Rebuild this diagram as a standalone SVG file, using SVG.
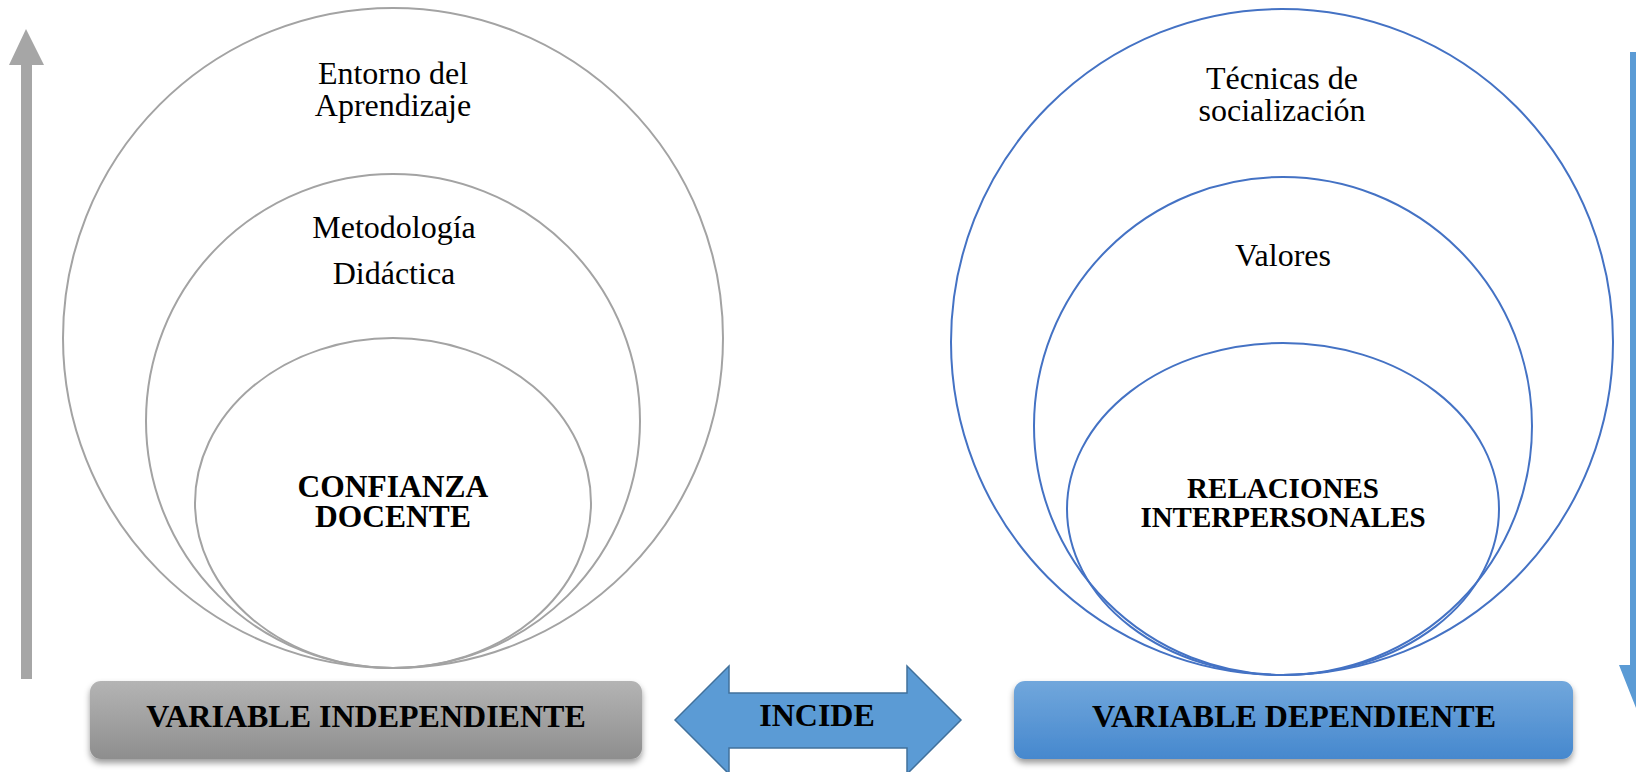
<svg xmlns="http://www.w3.org/2000/svg" width="1636" height="772" viewBox="0 0 1636 772">
<defs>
<linearGradient id="gGray" x1="0" y1="0" x2="0" y2="1">
<stop offset="0" stop-color="#b4b4b4"/>
<stop offset="1" stop-color="#8e8e8e"/>
</linearGradient>
<linearGradient id="gBlue" x1="0" y1="0" x2="0" y2="1">
<stop offset="0" stop-color="#71a7dc"/>
<stop offset="1" stop-color="#4688ce"/>
</linearGradient>
<filter id="shadow" x="-5%" y="-20%" width="110%" height="150%">
<feDropShadow dx="0" dy="4" stdDeviation="3" flood-color="#000" flood-opacity="0.4"/>
</filter>
<style>
.cg{fill:none;stroke:#a3a3a3;stroke-width:2}
.cb{fill:none;stroke:#4472c4;stroke-width:2}
.t{font-family:"Liberation Serif","Times New Roman",serif;font-size:32px;fill:#000;text-anchor:middle}
.tb{font-family:"Liberation Serif","Times New Roman",serif;font-size:31.5px;font-weight:bold;fill:#000;text-anchor:middle}
.bt{font-family:"Liberation Serif","Times New Roman",serif;font-size:32px;font-weight:bold;fill:#000;text-anchor:middle}
</style>
</defs>
<rect width="1636" height="772" fill="#fff"/>

<g id="arrow-up">
<polygon points="21,65 9,65 26,29 44,65 32,65 32,679 21,679" fill="#a6a6a6"/>
</g>
<g id="arrow-down">
<polygon points="1630,52 1641,52 1641,665 1653,665 1636,708 1619,665 1630,665" fill="#5b9bd5"/>
</g>

<g id="left-circles">
<circle class="cg" cx="393" cy="338" r="330"/>
<circle class="cg" cx="393" cy="421" r="247"/>
<ellipse class="cg" cx="393" cy="503" rx="198" ry="165"/>
</g>
<g id="entorno">
<text class="t" x="393" y="84">Entorno del</text>
<text class="t" x="393" y="116">Aprendizaje</text>
</g>
<g id="metodologia">
<text class="t" x="394" y="238">Metodología</text>
<text class="t" x="394" y="284">Didáctica</text>
</g>
<g id="confianza">
<text class="tb" x="393" y="497">CONFIANZA</text>
<text class="tb" x="393" y="527">DOCENTE</text>
</g>

<g id="right-circles">
<ellipse class="cb" cx="1282" cy="342" rx="331" ry="333"/>
<circle class="cb" cx="1283" cy="426" r="249"/>
<ellipse class="cb" cx="1283" cy="509" rx="216" ry="166"/>
</g>
<g id="tecnicas">
<text class="t" x="1282" y="89">Técnicas de</text>
<text class="t" x="1282" y="121">socialización</text>
</g>
<g id="valores">
<text class="t" x="1283" y="266">Valores</text>
</g>
<g id="relaciones">
<text class="tb" x="1283" y="498" style="font-size:29px">RELACIONES</text>
<text class="tb" x="1283" y="527" style="font-size:29px">INTERPERSONALES</text>
</g>

<g id="var-independiente">
<rect x="90" y="681" width="552" height="78" rx="11" fill="url(#gGray)" filter="url(#shadow)"/>
<text class="bt" x="366" y="727">VARIABLE INDEPENDIENTE</text>
</g>
<g id="var-dependiente">
<rect x="1014" y="681" width="559" height="78" rx="11" fill="url(#gBlue)" filter="url(#shadow)"/>
<text class="bt" x="1294" y="727">VARIABLE DEPENDIENTE</text>
</g>

<g id="connectors">
<g id="incide">
<polygon points="675,720 729,666 729,693 907,693 907,666 961,720 907,774 907,748 729,748 729,774" fill="#5b9bd5" stroke="#41719c" stroke-width="1.5"/>
<text class="bt" x="817" y="726">INCIDE</text>
</g>
</g>
</svg>
